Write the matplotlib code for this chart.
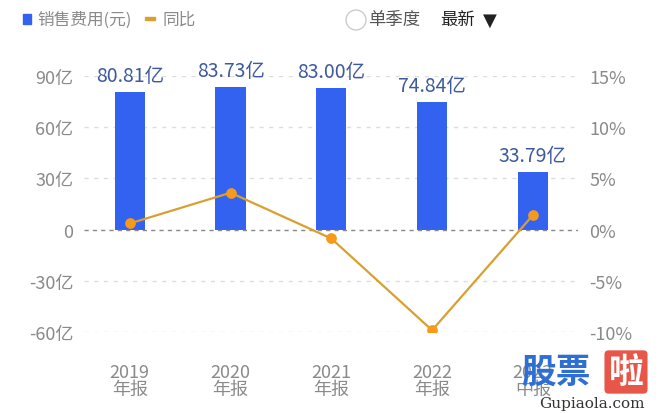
import matplotlib
matplotlib.use('Agg')
import matplotlib.pyplot as plt
from matplotlib.patches import Rectangle, Ellipse

plt.rcParams['font.family'] = ['Noto Sans CJK SC', 'DejaVu Sans']

# 数据
periods = ['2019\n年报', '2020\n年报', '2021\n年报', '2022\n年报', '2023\n中报']
sales_cost = [80.81, 83.73, 83.00, 74.84, 33.79]   # 亿元
yoy = [0.6, 3.6, -0.87, -9.83, 1.4]                  # %
left_ticks = [-60, -30, 0, 30, 60, 90]
right_ticks = [-10, -5, 0, 5, 10, 15]

BAR = '#3361f0'
LINE = '#d9a030'
DOT = '#f59a1a'
GREY = '#8a8a8a'
LABEL = '#3d5a9e'

fig = plt.figure(figsize=(6.6, 4.14), dpi=100)
ax = fig.add_axes([0.128, 0.1957, 0.748, 0.6183])
x = list(range(len(periods)))

ax.bar(x, sales_cost, width=0.3, color=BAR, zorder=2)
for xi, v in zip(x, sales_cost):
    ax.annotate(f'{v:.2f}亿', (xi, v), xytext=(0, 4), textcoords='offset points',
                ha='center', va='bottom', fontsize=14, color=LABEL)

ax.set_xlim(-0.45, 4.45)
ax.set_ylim(-60, 90)
ax.set_yticks(left_ticks)
ax.set_yticklabels([f'{t}亿' if t != 0 else '0' for t in left_ticks])
ax.set_xticks(x)
ax.set_xticklabels(periods, linespacing=0.95)
ax.tick_params(axis='both', length=0, colors=GREY, labelsize=13)
ax.tick_params(axis='x', pad=22)
ax.tick_params(axis='y', pad=8)
for s in ax.spines.values():
    s.set_visible(False)
for t in left_ticks:
    if t == 0:
        ax.axhline(0, color='#888888', lw=1, ls=(0, (3, 3)), zorder=3)
    else:
        ax.axhline(t, color='#dddddd', lw=1, ls=(0, (3, 4)), zorder=1)

ax2 = ax.twinx()
ax2.plot(x, yoy, color=LINE, lw=1.6, zorder=4)
ax2.scatter(x, yoy, s=45, color=DOT, zorder=5)
ax2.set_ylim(-10, 15)
ax2.set_yticks(right_ticks)
ax2.set_yticklabels([f'{t}%' for t in right_ticks])
ax2.tick_params(axis='y', length=0, colors=GREY, labelsize=13, pad=8)
for s in ax2.spines.values():
    s.set_visible(False)

# 顶部图例
fig.patches.append(Rectangle((23 / 660, 1 - 25 / 414), 8 / 660, 10 / 414,
                             transform=fig.transFigure, color=BAR))
fig.text(37 / 660, 1 - 20 / 414, '销售费用(元)', fontsize=12, color=GREY, va='center')
fig.patches.append(Rectangle((145 / 660, 1 - 21 / 414), 10 / 660, 3 / 414,
                             transform=fig.transFigure, color=LINE))
fig.text(162 / 660, 1 - 20 / 414, '同比', fontsize=12, color=GREY, va='center')
fig.patches.append(Ellipse((356 / 660, 1 - 21 / 414), 20 / 660, 20 / 414,
                           transform=fig.transFigure, fill=False, ec='#cccccc', lw=1))
fig.text(368 / 660, 1 - 20 / 414, '单季度', fontsize=12.5, color='#555555', va='center')
fig.text(440 / 660, 1 - 20 / 414, '最新', fontsize=12.5, color='#222222', va='center')
fig.text(483 / 660, 1 - 21 / 414, '▼', fontsize=13, color='#222222', va='center',
         family=['DejaVu Sans'])

# 水印
fig.text(521 / 660, 1 - 372 / 414, '股票', fontsize=25, color='#2e6fd6',
         fontweight='bold', va='center')
fig.text(626 / 660, 1 - 373 / 414, '啦', fontsize=25, color='white', fontweight='bold',
         ha='center', va='center', bbox=dict(boxstyle='round,pad=0.12', fc='#e8564a', ec='none'))
fig.text(592 / 660, 1 - 404 / 414, 'Gupiaola.com', fontsize=11, color='#333333',
         ha='center', va='center', family=['DejaVu Serif'])

fig.savefig('out.png', dpi=100)
